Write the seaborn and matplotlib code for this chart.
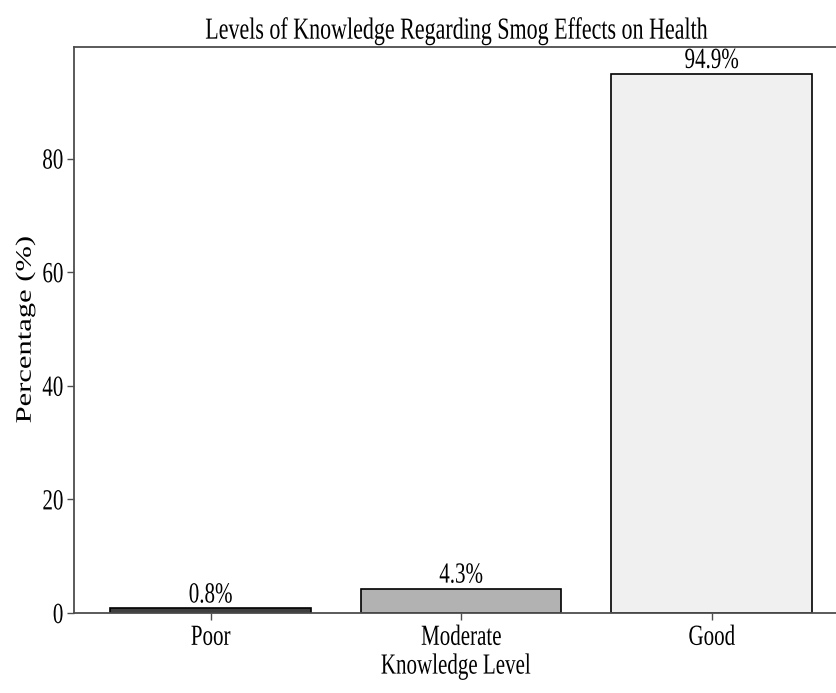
import matplotlib
matplotlib.use('Agg')
import matplotlib.pyplot as plt
from matplotlib import patheffects
from matplotlib.transforms import Affine2D
import seaborn as sns
import pandas as pd

# data
levels = ['Poor', 'Moderate', 'Good']
percentages = [0.8, 4.3, 94.9]
bar_colors = ['#3f3f3f', '#b2b2b2', '#f0f0f0']

df = pd.DataFrame({'Knowledge Level': levels, 'Percentage': percentages})


# the reference text is horizontally condensed, squeeze the glyphs a bit
class Squeeze(patheffects.AbstractPathEffect):
    def __init__(self, sx=0.72, anchor='center'):
        super().__init__()
        self.sx = sx
        self.anchor = anchor

    def draw_path(self, renderer, gc, tpath, affine, rgbFace=None):
        ext = tpath.get_extents(affine)
        if self.anchor == 'right':
            x0 = ext.x1
        else:
            x0 = (ext.x0 + ext.x1) / 2
        squeeze = Affine2D().translate(-x0, 0).scale(self.sx, 1).translate(x0, 0)
        renderer.draw_path(gc, tpath, affine + squeeze, rgbFace)


sns.set_style('white')
plt.rcParams['font.family'] = ['Liberation Serif', 'DejaVu Serif']
plt.rcParams['text.color'] = 'black'
plt.rcParams['axes.labelcolor'] = 'black'

fig = plt.figure(figsize=(8.37, 6.93), dpi=100)
ax = fig.add_axes([0.0884, 0.1154, 0.9116, 0.8168])

sns.barplot(data=df, x='Knowledge Level', y='Percentage', hue='Knowledge Level',
            palette=bar_colors, edgecolor='black', linewidth=1.2, width=0.8,
            legend=False, ax=ax)

# percentage labels above bars
bar_texts = []
for container in ax.containers:
    bar_texts += ax.bar_label(container, fmt='%.1f%%', fontsize=21, padding=0)

ax.set_xlim(-0.545, 2.5)
ax.set_ylim(0, max(percentages) * 1.05)
ax.set_yticks([0, 20, 40, 60, 80])

title = ax.set_title('Levels of Knowledge Regarding Smog Effects on Health', fontsize=22, pad=6)
ax.set_xlabel('Knowledge Level', fontsize=21, labelpad=2)
ax.set_ylabel('Percentage (%)', fontsize=22)
ax.yaxis.set_label_coords(-0.050, 0.5)
ax.tick_params(axis='both', labelsize=21, length=5, width=1, color='0.3',
               labelcolor='black', bottom=True, left=True, direction='out')
ax.tick_params(axis='y', pad=2.5)

for side in ['left', 'top', 'bottom']:
    ax.spines[side].set_color('0.3')
    ax.spines[side].set_linewidth(1.3)
ax.spines['right'].set_visible(False)

for t in bar_texts + [title, ax.xaxis.label] + ax.get_xticklabels():
    t.set_path_effects([Squeeze(0.72)])
for t in ax.get_yticklabels() + [ax.yaxis.label]:
    t.set_path_effects([Squeeze(0.72, 'right')])

fig.savefig('out.png', dpi=100)
